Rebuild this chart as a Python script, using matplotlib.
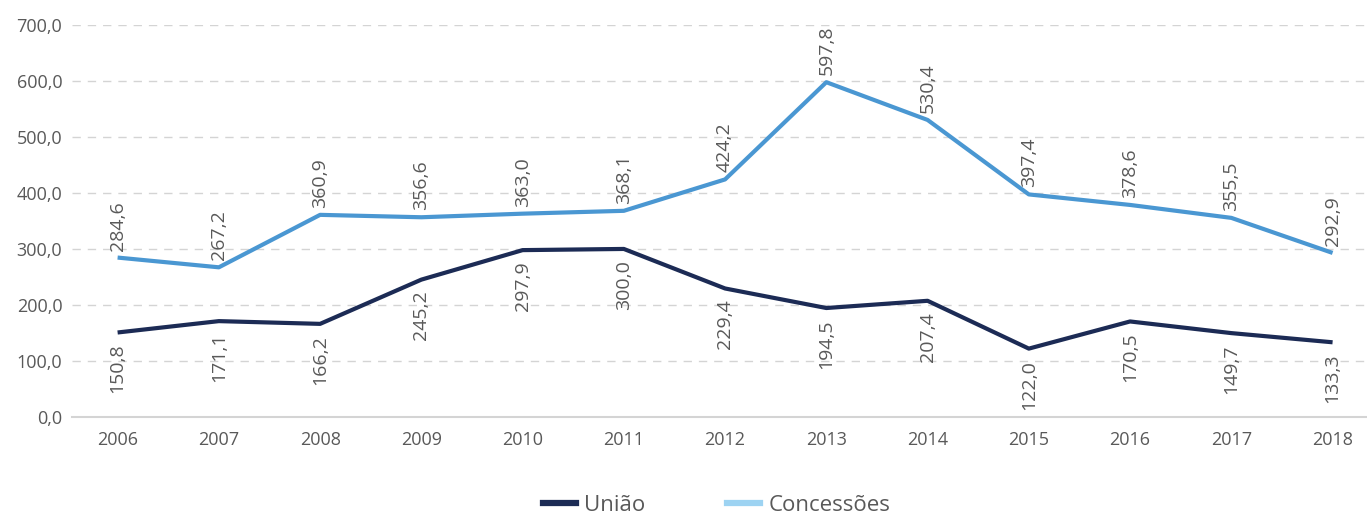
import matplotlib.pyplot as plt
from matplotlib.lines import Line2D

plt.rcParams['font.family'] = ['Open Sans', 'DejaVu Sans']

anos = [2006, 2007, 2008, 2009, 2010, 2011, 2012, 2013, 2014, 2015, 2016, 2017, 2018]
uniao = [150.8, 171.1, 166.2, 245.2, 297.9, 300.0, 229.4, 194.5, 207.4, 122.0, 170.5, 149.7, 133.3]
concessoes = [284.6, 267.2, 360.9, 356.6, 363.0, 368.1, 424.2, 597.8, 530.4, 397.4, 378.6, 355.5, 292.9]

cor_uniao = '#1c2b55'
cor_conc = '#4a97d2'
cor_conc_leg = '#9dd3f2'
cor_texto = '#595959'


def fmt(v):
    return f'{v:.1f}'.replace('.', ',')


fig = plt.figure(figsize=(13.67, 5.16), dpi=100)
ax = fig.add_axes([0.0527, 0.192, 0.9473, 0.7596])

ax.plot(anos, uniao, color=cor_uniao, lw=3, solid_capstyle='butt', zorder=3)
ax.plot(anos, concessoes, color=cor_conc, lw=3, solid_capstyle='butt', zorder=3)

# rotulos verticais: concessoes acima da linha, uniao abaixo
for x, v in zip(anos, concessoes):
    ax.annotate(fmt(v), (x, v), xytext=(0, 5), textcoords='offset points',
                rotation=90, ha='center', va='bottom', fontsize=14, color=cor_texto)
for x, v in zip(anos, uniao):
    ax.annotate(fmt(v), (x, v), xytext=(0, -8), textcoords='offset points',
                rotation=90, ha='center', va='top', fontsize=14, color=cor_texto)

ax.set_ylim(0, 700)
ax.set_xlim(2005.55, 2018.34)
ax.set_yticks(range(0, 701, 100))
ax.set_yticklabels([fmt(v) for v in range(0, 701, 100)])
ax.set_xticks(anos)
ax.grid(axis='y', color='#d4d4d4', linestyle=(0, (6, 5)), lw=1)
ax.set_axisbelow(True)
for s in ['top', 'right', 'left']:
    ax.spines[s].set_visible(False)
ax.spines['bottom'].set_color('#d4d4d4')
ax.spines['bottom'].set_linewidth(1.5)
ax.tick_params(length=0, labelsize=13, colors=cor_texto, pad=10)
ax.tick_params(axis='y', pad=7)

handles = [Line2D([], [], color=cor_uniao, lw=4.5),
           Line2D([], [], color=cor_conc_leg, lw=4.5)]
fig.legend(handles, ['União', 'Concessões'], loc='center', bbox_to_anchor=(0.524, 0.02),
           ncol=2, frameon=False, fontsize=16, labelcolor=cor_texto,
           handlelength=1.5, handletextpad=0.35, columnspacing=3.7)

fig.savefig('out.png', dpi=100)
